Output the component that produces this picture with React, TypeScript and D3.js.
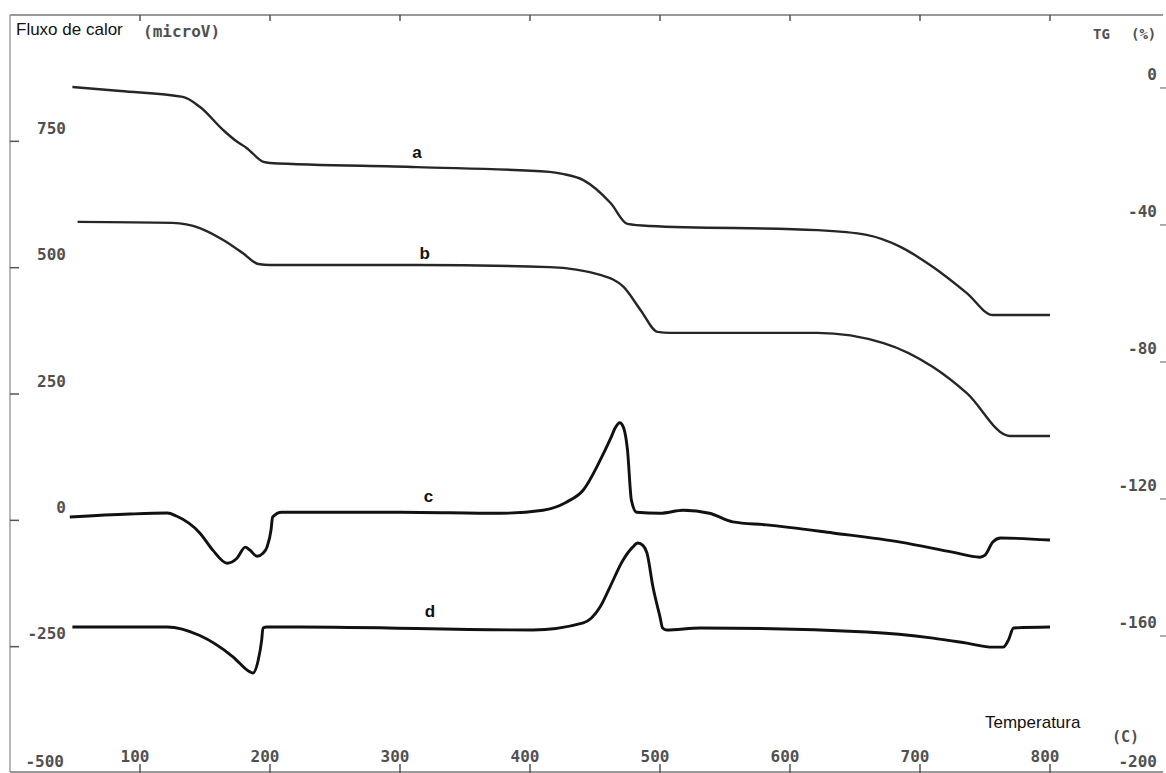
import React from 'react';
import * as d3 from 'd3';

const W = 1166;
const H = 773;

// axis ticks
const tempTicks = [100, 200, 300, 400, 500, 600, 700, 800];
const heatTicks = [750, 500, 250, 0, -250];
const tgTicks = [0, -40, -80, -120, -160];

// TG curves (temperature °C, mass change %)
const curveA: [number, number][] = [
  [48, 0.3], [85, -0.9], [133, -2.6], [146, -5.5], [164, -12.3], [175, -15.8], [182, -17.5],
  [195, -21.6], [200, -21.9], [313, -23.1], [415, -24.5], [425, -25.1], [441, -26.9],
  [462, -33.6], [475, -39.7], [492, -40.3], [621, -41.5], [659, -42.9], [685, -46.4],
  [710, -52.3], [736, -59.9], [756, -66.3], [800, -66.3],
];
const curveB: [number, number][] = [
  [52, -39.1], [125, -39.4], [146, -40.9], [164, -44.4], [179, -48.2], [191, -51.4],
  [200, -51.7], [313, -51.7], [415, -52.3], [454, -54.6], [472, -58.1], [485, -64.8],
  [498, -71.2], [508, -71.5], [621, -71.5], [672, -74.5], [710, -81.5], [736, -89.1],
  [769, -101.6], [800, -101.6],
];

// DTA curves (temperature °C, heat flow microV)
const curveC: [number, number][] = [
  [46, 6.5], [92, 12.5], [121, 14.4], [128, 8.5], [146, -25], [156, -59], [167, -85],
  [174.6, -75], [181, -53], [184.6, -59], [190, -71], [194.6, -65], [197.7, -53],
  [200.8, -19], [202, 6.5], [209, 16], [300, 16], [377, 14], [410, 20], [428, 36],
  [441, 60], [454, 119], [462, 162], [466, 185], [469, 193], [472, 183], [475, 139],
  [478, 40], [482, 16], [500, 14], [518, 20], [538, 14], [556, -3], [582, -9], [633, -25],
  [685, -43], [725, -63], [746, -73], [750, -69], [756, -43], [762, -35], [800, -39],
];
const curveD: [number, number][] = [
  [48, -211], [121, -211], [146, -228], [171.5, -270], [184.6, -300], [187, -302],
  [191, -276], [193.6, -237], [194.6, -213], [197.7, -211], [223, -211], [402, -217],
  [441, -203], [454, -171], [461.5, -132], [471.5, -79], [479, -53], [483, -45],
  [487, -50], [490, -65], [494.6, -132], [500, -191], [502, -213], [505, -217], [531, -213],
  [659, -221], [710, -233], [736, -243], [756, -251], [764, -251], [768, -237],
  [772, -213], [800, -211],
];

const monoFont = '"DejaVu Sans Mono", monospace';
const sansFont = '"Liberation Sans", Arial, sans-serif';
const labelColor = '#505050';

export default function App() {
  const x = d3.scaleLinear().domain([0, 887]).range([10, 1163.1]);
  const yL = d3.scaleLinear().domain([-500, 1000]).range([773, 15]);
  const yR = d3.scaleLinear().domain([-200, 21.3]).range([773, 15]);

  const lineL = d3
    .line<[number, number]>()
    .x((d) => x(d[0]))
    .y((d) => yL(d[1]))
    .curve(d3.curveMonotoneX);
  const lineR = d3
    .line<[number, number]>()
    .x((d) => x(d[0]))
    .y((d) => yR(d[1]))
    .curve(d3.curveMonotoneX);

  const left = x(0);
  const right = x(887);
  const top = yL(1000);
  const bottom = yL(-500);

  const numStyle = {
    fontFamily: monoFont,
    fontSize: 16,
    fontWeight: 'bold' as const,
    fill: labelColor,
  };

  return (
    <svg
      width={W}
      height={H}
      style={{ position: 'absolute', left: 0, top: 0, background: '#fff' }}
    >
      <rect x={0} y={0} width={W} height={H} fill="#fff" />
      {/* frame */}
      <line x1={left} y1={top} x2={right} y2={top} stroke="#777" strokeWidth={1.3} />
      <line x1={left} y1={top} x2={left} y2={bottom - 1} stroke="#888" strokeWidth={1.2} />
      <line x1={left} y1={bottom - 1} x2={right} y2={bottom - 1} stroke="#777" strokeWidth={1.3} />

      {/* left ticks */}
      {heatTicks.map((v) => (
        <g key={'hl' + v}>
          <line x1={left} x2={left + 9} y1={yL(v)} y2={yL(v)} stroke="#555" strokeWidth={1.5} />
          <text x={66} y={yL(v) - 12} textAnchor="end" dominantBaseline="middle" {...numStyle}>
            {v}
          </text>
        </g>
      ))}
      <text x={64} y={762} textAnchor="end" dominantBaseline="middle" {...numStyle}>
        -500
      </text>

      {/* right ticks */}
      {tgTicks.map((t) => (
        <g key={'tr' + t}>
          <line x1={1160} x2={1166} y1={yR(t)} y2={yR(t)} stroke="#777" strokeWidth={1.2} />
          <text x={1157} y={yR(t) - 12} textAnchor="end" dominantBaseline="middle" {...numStyle}>
            {t}
          </text>
        </g>
      ))}
      <text x={1157} y={762} textAnchor="end" dominantBaseline="middle" {...numStyle}>
        -200
      </text>
      <text x={1112} y={737} dominantBaseline="middle" {...numStyle} fontSize={15}>
        (C)
      </text>

      {/* temperature ticks */}
      {tempTicks.map((t) => (
        <g key={'tt' + t}>
          <line x1={x(t)} x2={x(t)} y1={bottom} y2={bottom - 9} stroke="#555" strokeWidth={1.5} />
          <line x1={x(t)} x2={x(t)} y1={top} y2={top + 6} stroke="#555" strokeWidth={1.5} />
          <text x={x(t) - 5} y={757} textAnchor="middle" dominantBaseline="middle" {...numStyle}>
            {t}
          </text>
        </g>
      ))}

      {/* titles */}
      <text x={16} y={35} fontFamily={sansFont} fontSize={17} fill="#111">
        Fluxo de calor
      </text>
      <text x={143} y={37} fontFamily={monoFont} fontSize={16} fontWeight="bold" fill={labelColor}>
        (microV)
      </text>
      <text x={1093} y={39} fontFamily={monoFont} fontSize={14} fontWeight="bold" fill={labelColor}>
        TG
      </text>
      <text x={1131} y={39} fontFamily={monoFont} fontSize={14} fontWeight="bold" fill={labelColor}>
        (%)
      </text>
      <text x={985} y={728} fontFamily={sansFont} fontSize={17} fill="#111">
        Temperatura
      </text>

      {/* curves */}
      <path d={lineR(curveA) || ''} fill="none" stroke="#262626" strokeWidth={2.4} strokeLinejoin="round" />
      <path d={lineR(curveB) || ''} fill="none" stroke="#262626" strokeWidth={2.4} strokeLinejoin="round" />
      <path d={lineL(curveC) || ''} fill="none" stroke="#111" strokeWidth={2.9} strokeLinejoin="round" />
      <path d={lineL(curveD) || ''} fill="none" stroke="#111" strokeWidth={2.9} strokeLinejoin="round" />

      {/* curve labels */}
      <text x={x(313)} y={yR(-19)} textAnchor="middle" dominantBaseline="middle" fontFamily={sansFont} fontWeight="bold" fontSize={17} fill="#111">
        a
      </text>
      <text x={x(319)} y={yR(-48.5)} textAnchor="middle" dominantBaseline="middle" fontFamily={sansFont} fontWeight="bold" fontSize={17} fill="#111">
        b
      </text>
      <text x={x(322)} y={yL(46)} textAnchor="middle" dominantBaseline="middle" fontFamily={sansFont} fontWeight="bold" fontSize={17} fill="#111">
        c
      </text>
      <text x={x(323)} y={yL(-182)} textAnchor="middle" dominantBaseline="middle" fontFamily={sansFont} fontWeight="bold" fontSize={17} fill="#111">
        d
      </text>
    </svg>
  );
}
